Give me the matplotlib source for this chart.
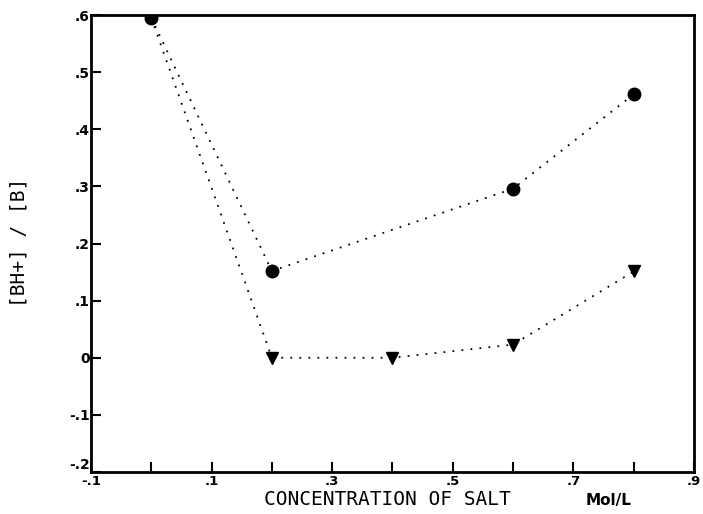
import matplotlib
matplotlib.use("Agg")
import matplotlib.pyplot as plt

# Data
circ_x = [0.0, 0.2, 0.6, 0.8]
circ_y = [0.595, 0.152, 0.296, 0.461]
tri_x = [0.0, 0.2, 0.4, 0.6, 0.8]
tri_y = [0.595, 0.0, 0.0, 0.023, 0.151]
tri_marker_x = [0.2, 0.4, 0.6, 0.8]
tri_marker_y = [0.0, 0.0, 0.023, 0.151]

x_ticks = [-0.1, 0.0, 0.1, 0.2, 0.3, 0.4, 0.5, 0.6, 0.7, 0.8, 0.9]
x_labels = ["-.1", "", ".1", "", ".3", "", ".5", "", ".7", "", ".9"]
y_ticks = [-0.2, -0.1, 0.0, 0.1, 0.2, 0.3, 0.4, 0.5, 0.6]
y_labels = ["-.2", "-.1", "0", ".1", ".2", ".3", ".4", ".5", ".6"]

fig = plt.figure(figsize=(7.03, 5.14), dpi=100)
ax = fig.add_axes([0.1294, 0.0817, 0.8576, 0.8891])

dot = (0, (1, 4))
ax.plot(circ_x, circ_y, linestyle=dot, color="black", linewidth=1.3)
ax.plot(tri_x, tri_y, linestyle=dot, color="black", linewidth=1.3)
ax.plot(circ_x, circ_y, linestyle="none", marker="o", markersize=9, color="black")
ax.plot(tri_marker_x, tri_marker_y, linestyle="none", marker="v", markersize=8, color="black")

ax.set_xlim(-0.1, 0.9)
ax.set_ylim(-0.2, 0.6)
ax.set_xticks(x_ticks)
ax.set_xticklabels(x_labels)
ax.set_yticks(y_ticks)
ax.set_yticklabels(y_labels)
ax.tick_params(direction="in", length=7, width=1.5, labelsize=10)
ax.tick_params(axis="x", pad=2, labelsize=9.5)
ax.tick_params(axis="y", pad=1)
for lab in ax.get_xticklabels() + ax.get_yticklabels():
    lab.set_fontweight("bold")
ax.get_yticklabels()[0].set_verticalalignment("bottom")
for s in ax.spines.values():
    s.set_linewidth(2)

ax.text(0.492, -0.040, "CONCENTRATION OF SALT", fontsize=14, family="DejaVu Sans Mono",
        ha="center", va="top", transform=ax.transAxes)
ax.text(0.859, -0.045, "Mol/L", fontsize=11, fontweight="bold", family="DejaVu Sans",
        ha="center", va="top", transform=ax.transAxes)
fig.text(19 / 703, 0.529, "[BH+] / [B]", fontsize=14, family="DejaVu Sans Mono",
         rotation=90, ha="center", va="center")

fig.savefig("out.png", dpi=100)
